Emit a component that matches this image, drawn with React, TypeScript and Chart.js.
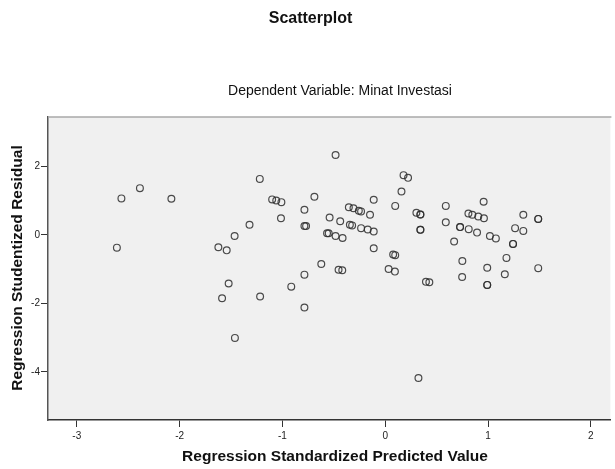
import React, { useEffect, useRef } from "react";
import { Chart, registerables } from "chart.js";

Chart.register(...registerables);

const predicted = [
  -2.61, -2.566, -2.386, -2.08, -1.623, -1.542, -1.465, -1.523, -1.587, -1.462,
  -1.32, -1.22, -1.1, -1.06, -1.01, -1.014, -1.217, -0.914, -0.786, -0.786,
  -0.786, -0.786, -0.77, -0.689, -0.622, -0.483, -0.541, -0.566, -0.55, -0.483,
  -0.415, -0.438, -0.454, -0.418, -0.354, -0.309, -0.257, -0.235, -0.344, -0.322,
  -0.235, -0.17, -0.112, -0.148, -0.112, -0.112, 0.033, 0.094, 0.077, 0.097,
  0.097, 0.158, 0.178, 0.222, 0.303, 0.342, 0.342, 0.323, 0.396, 0.429,
  0.589, 0.589, 0.67, 0.728, 0.75, 0.748, 0.809, 0.847, 0.905, 0.96,
  0.812, 0.893, 0.957, 1.018, 1.076, 0.992, 0.992, 1.163, 1.179, 1.243,
  1.263, 1.343, 1.343, 1.488, 1.488, 0.342, 0.342, 1.488, 0.992, 1.243,
  0.728,
];

const residual = [
  -0.37, 1.07, 1.37, 1.06, -0.36, -0.45, -0.03, -1.42, -1.85, -3.01,
  0.3, 1.64, 1.04, 1.01, 0.96, 0.49, -1.8, -1.51, -1.16, -2.12,
  0.74, 0.26, 0.26, 1.12, -0.85, 2.34, 0.51, 0.05, 0.05, -0.03,
  -0.09, 0.4, -1.02, -1.03, 0.81, 0.78, 0.71, 0.69, 0.3, 0.28,
  0.2, 0.16, 0.1, 0.59, 1.03, -0.39, -0.995, -1.07, -0.57, -0.59,
  0.85, 1.27, 1.75, 1.67, 0.65, 0.6, 0.15, -4.18, -1.37, -1.38,
  0.85, 0.37, -0.19, 0.23, -0.76, -1.23, 0.63, 0.59, 0.54, 0.49,
  0.17, 0.07, 0.97, -0.03, -0.1, -0.96, -1.46, -1.15, -0.67, -0.26,
  0.2, 0.12, 0.59, 0.47, -0.97, 0.6, 0.15, 0.47, -1.46, -0.26,
  0.23,
];

const xTicks = [-3, -2, -1, 0, 1, 2];
const yTicks = [2, 0, -2, -4];

const titleText = "Scatterplot";
const subtitleText = "Dependent Variable: Minat Investasi";
const xTitleText = "Regression Standardized Predicted Value";
const yTitleText = "Regression Studentized Residual";

const FONT = "'Liberation Sans', Arial, sans-serif";

export default function App() {
  const ref = useRef<HTMLCanvasElement>(null);

  useEffect(() => {
    document.body.style.margin = "0";
    const canvas = ref.current;
    if (!canvas) return;

    const spssPlugin = {
      id: "spssDecor",
      beforeDraw(chart: any) {
        const { ctx, chartArea } = chart;
        ctx.save();
        ctx.fillStyle = "#f0f0f0";
        ctx.fillRect(chartArea.left, chartArea.top, chartArea.right - chartArea.left, chartArea.bottom - chartArea.top);
        ctx.restore();
      },
      afterDraw(chart: any) {
        const { ctx, chartArea } = chart;
        ctx.save();
        // top border
        ctx.strokeStyle = "#a8a8a8";
        ctx.lineWidth = 1.5;
        ctx.beginPath();
        ctx.moveTo(chartArea.left, chartArea.top);
        ctx.lineTo(chartArea.right + 1, chartArea.top);
        ctx.stroke();

        ctx.fillStyle = "#111";
        ctx.textAlign = "center";
        ctx.textBaseline = "middle";
        ctx.font = `bold 16px ${FONT}`;
        ctx.fillText(titleText, 310.5, 19);
        ctx.font = `14px ${FONT}`;
        ctx.fillText(subtitleText, 340, 91);
        ctx.font = `bold 15.5px ${FONT}`;
        ctx.fillText(xTitleText, 335, 457);
        ctx.translate(18, 268);
        ctx.rotate(-Math.PI / 2);
        ctx.fillText(yTitleText, 0, 0);
        ctx.restore();
      },
    };

    const tickFont = { family: FONT, size: 10 };

    const chart = new Chart(canvas, {
      type: "scatter",
      data: {
        datasets: [
          {
            data: predicted.map((x, i) => ({ x, y: residual[i] })),
            pointRadius: 3.4,
            pointHoverRadius: 3.4,
            pointBorderWidth: 1.2,
            borderColor: "rgba(45,45,45,0.85)",
            backgroundColor: "rgba(0,0,0,0)",
          },
        ],
      },
      options: {
        responsive: false,
        animation: false,
        events: [],
        layout: { padding: { top: 117, right: 1, left: 0, bottom: 0 } },
        plugins: {
          legend: { display: false },
          tooltip: { enabled: false },
          title: { display: false },
        },
        scales: {
          x: {
            type: "linear",
            min: -3.28,
            max: 2.19,
            afterBuildTicks: (s: any) => {
              s.ticks = xTicks.map((v) => ({ value: v }));
            },
            afterFit: (s: any) => {
              s.height = 49;
            },
            grid: { drawOnChartArea: false, tickLength: 7, tickColor: "#333", tickWidth: 1 },
            border: { color: "#333", width: 1.5 },
            ticks: { padding: 3, color: "#222", font: tickFont, maxRotation: 0, autoSkip: false },
          },
          y: {
            type: "linear",
            min: -5.41,
            max: 3.45,
            afterBuildTicks: (s: any) => {
              s.ticks = yTicks.map((v) => ({ value: v }));
            },
            afterFit: (s: any) => {
              s.width = 48;
            },
            grid: { drawOnChartArea: false, tickLength: 7, tickColor: "#333", tickWidth: 1 },
            border: { color: "#555", width: 1.5 },
            ticks: { padding: 1, color: "#222", font: tickFont, autoSkip: false },
          },
        },
      },
      plugins: [spssPlugin],
    } as any);

    return () => chart.destroy();
  }, []);

  return <canvas ref={ref} width={615} height={469} style={{ display: "block" }} />;
}
